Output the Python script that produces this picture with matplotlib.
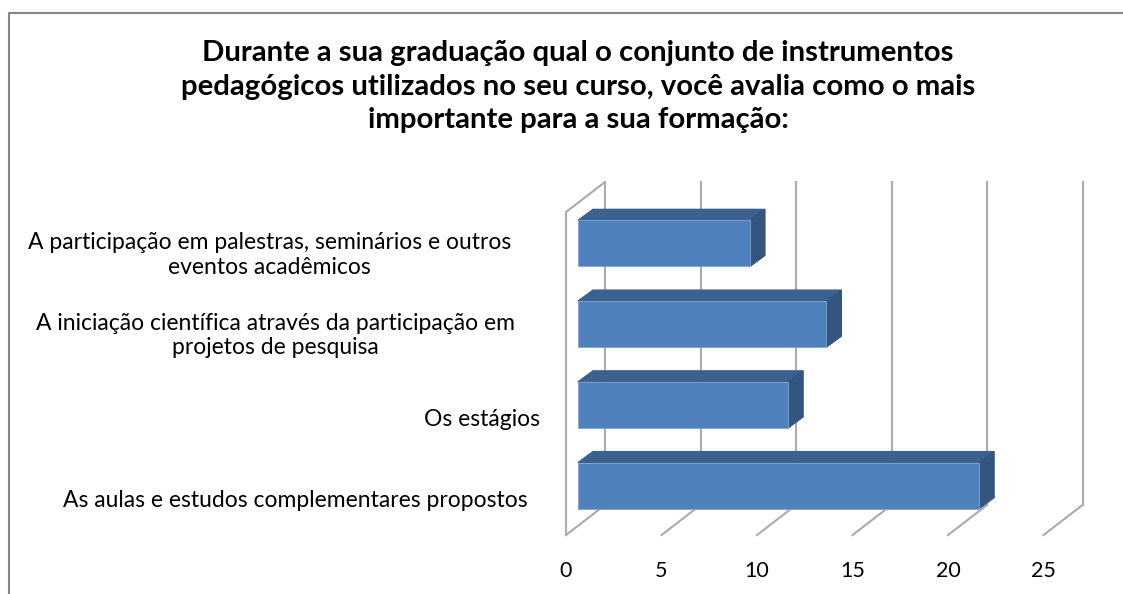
#!/usr/bin/env python
import matplotlib
matplotlib.use('Agg')
import matplotlib.pyplot as plt
from matplotlib.lines import Line2D
from matplotlib.transforms import ScaledTranslation

W, H = 1123, 594

titulo = ('Durante a sua graduação qual o conjunto de instrumentos\n'
          'pedagógicos utilizados no seu curso, você avalia como o mais\n'
          'importante para a sua formação:')

# bottom to top, as on the value axis
categorias = [
    'As aulas e estudos complementares propostos',
    'Os estágios',
    'A iniciação científica através da participação em\nprojetos de pesquisa',
    'A participação em palestras, seminários e outros\neventos acadêmicos',
]
valores = [21, 11, 13, 9]
ticks = [0, 5, 10, 15, 20, 25]

plt.rcParams['font.family'] = ['Lato', 'DejaVu Sans']

fig = plt.figure(figsize=(W / 100, H / 100), dpi=100)
# chart frame, cropped on the right and at the bottom
fig.add_artist(Line2D([9 / W, 9 / W, 1], [0, 1 - 13 / H, 1 - 13 / H],
                      transform=fig.transFigure, color='#868686', linewidth=1.5))

fig.text(578 / W, 1 - 86.5 / H, titulo, ha='center', va='center',
         fontsize=21.2, fontweight='bold', color='black', linespacing=1.38)

# axes = plane through the front face of the bars
ax = fig.add_axes([578 / W, 1 - 526 / H, 477.5 / W, 323 / H])
ax.set_xlim(0, 25)
ax.set_ylim(-0.5, 3.5)
for s in ax.spines.values():
    s.set_visible(False)

# depth of the fake 3d box, in data units
front_dx, front_dy = -0.628, -0.112
back_dx, back_dy = 1.414, 0.26
bar_dx, bar_dy = 0.785, 0.136
grid = '#ABABAB'
y0, y1 = ax.get_ylim()

for t in ticks:
    # wall line and floor line
    ax.plot([t + back_dx, t + back_dx], [y0 + back_dy, y1 + back_dy],
            color=grid, lw=1.5, zorder=1, clip_on=False)
    ax.plot([t + back_dx, t + front_dx], [y0 + back_dy, y0 + front_dy],
            color=grid, lw=1.5, zorder=1, clip_on=False)

# left side wall
ax.plot([front_dx, front_dx, back_dx], [y0 + front_dy, y1 + front_dy, y1 + back_dy],
        color=grid, lw=1.5, zorder=1, clip_on=False)

altura = 0.57
for i, v in enumerate(valores):
    b, t = i - altura / 2, i + altura / 2
    ax.barh(i, v, height=altura, color='#4F81BD', edgecolor='#7FA3CF',
            linewidth=0.6, zorder=3, clip_on=False)
    ax.fill([0, v, v + bar_dx, bar_dx], [t, t, t + bar_dy, t + bar_dy],
            color='#3C618F', zorder=2, clip_on=False)
    ax.fill([v, v + bar_dx, v + bar_dx, v], [b, b + bar_dy, t + bar_dy, t],
            color='#33557F', zorder=2, clip_on=False)

ax.set_xticks(ticks)
ax.set_yticks(range(len(categorias)))
ax.set_yticklabels(categorias, multialignment='center', fontsize=16.5)
ax.tick_params(axis='both', length=0, colors='black')
ax.tick_params(axis='x', pad=25, labelsize=15.5)

# move tick labels onto the front plane
for lab in ax.get_xticklabels():
    lab.set_transform(lab.get_transform() +
                      ScaledTranslation(-12 / 100, 0, fig.dpi_scale_trans))
nudges = [(-46, -13), (-33, -13), (-58, -7.5), (-62, -8)]
for lab, (nx, ny) in zip(ax.get_yticklabels(), nudges):
    lab.set_transform(lab.get_transform() +
                      ScaledTranslation(nx / 100, ny / 100, fig.dpi_scale_trans))

plt.savefig('out.png', dpi=100)
